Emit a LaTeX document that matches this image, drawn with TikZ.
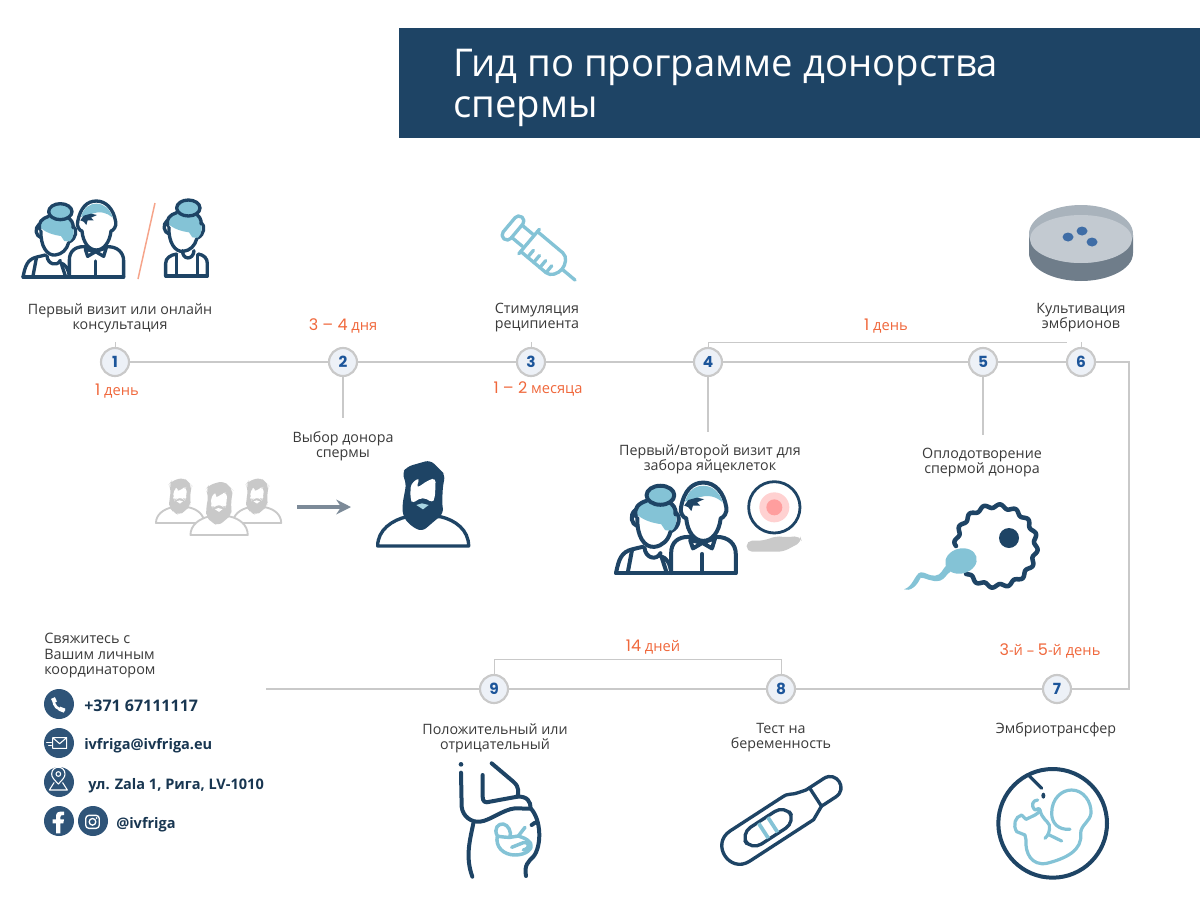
\documentclass[tikz,border=0pt]{standalone}
\usepackage{fontspec}
\setmainfont{Open Sans}
\newfontfamily\digfont{Poppins}
\usetikzlibrary{arrows.meta}
\definecolor{navy}{HTML}{1E4465}
\definecolor{teal}{HTML}{84C3D6}
\definecolor{linegray}{HTML}{C9C9C9}
\definecolor{orangeish}{HTML}{F0683C}
\definecolor{numblue}{HTML}{1C559A}
\definecolor{txt}{HTML}{3A3A3A}
\definecolor{iconblue}{HTML}{2F5478}
\newcommand\od[1]{{\digfont\fontsize{12}{12}\selectfont #1}}
\newcommand\shlw{2.5pt}
\newcommand\mouthcol{teal!70!white}
\newcommand\WomanHead{%
  \draw[darkline] (116,130) .. controls (102,142) and (106,165) .. (122,170);
  \draw[darkline] (218,135) .. controls (232,145) and (228,172) .. (208,182);
  \path[fill=teal] (125,112) .. controls (150,100) and (205,105) .. (215,125) .. controls (224,145) and (222,170) .. (208,182) -- (192,180) -- (182,165) .. controls (160,162) and (135,155) .. (118,138) -- cycle;
  \draw[darkline] (118,145) .. controls (112,125) and (125,112) .. (145,106);
  \draw[darkline] (200,108) .. controls (212,115) and (220,125) .. (218,140);
  \draw[darkline,fill=teal] (180,92) ellipse [x radius=35,y radius=24];
  \draw[darkline] (122,150) .. controls (120,195) and (140,225) .. (165,222) .. controls (185,220) and (200,205) .. (205,185);
}
\tikzset{
  mainline/.style={draw=linegray,line width=1.6pt},
  thinline/.style={draw=linegray,line width=.65pt},
  stepnum/.style={circle,draw=linegray,fill=white!92!numblue,line width=1.6pt,minimum size=21pt,inner sep=0pt,text=numblue,font=\digfont\fontsize{11.5}{12}\selectfont\bfseries},
  steplabel/.style={text=txt,align=center,inner sep=0pt,font=\fontsize{10.7}{11.25}\selectfont},
  dur/.style={text=orangeish,inner sep=0pt,font=\fontsize{11}{12}\selectfont},
  contact/.style={anchor=west,inner sep=0pt,text=navy!80!black,font=\fontsize{10.9}{12}\selectfont\bfseries},
  iconbg/.style={circle,fill=iconblue,minimum size=22.5pt,inner sep=0pt},
  darkline/.style={draw=navy,line width=\iconlw,line cap=round,line join=round},
  tealline/.style={draw=teal,line cap=round,line join=round},
  iconwhite/.style={draw=white,line width=.8pt,line cap=round,line join=round},
  couple/.pic={
    \begin{scope}[scale=1/3,shift={(-68,-288)}]
      \WomanHead
      \draw[darkline] (68,288) .. controls (75,255) and (80,235) .. (110,228) -- (135,222);
      \draw[darkline] (140,225) .. controls (142,250) and (170,258) .. (180,238);
      \draw[darkline] (180,245) .. controls (195,250) and (205,262) .. (207,288);
      \draw[darkline] (108,232) -- (98,285);
      \draw[darkline] (183,248) -- (195,285);
      \draw[darkline,fill=white] (207,288) -- (207,238) .. controls (207,210) and (225,197) .. (250,197) -- (322,197) .. controls (352,197) and (370,215) .. (370,240) -- (370,288);
      \draw[darkline,fill=white] (232,122) .. controls (240,80) and (260,60) .. (288,60) .. controls (318,60) and (340,85) .. (346,122) .. controls (350,135) and (338,150) .. (332,150) .. controls (328,185) and (310,207) .. (288,207) .. controls (266,207) and (248,185) .. (245,150) .. controls (238,150) and (228,135) .. (232,122) -- cycle;
      \path[fill=teal] (242,108) .. controls (250,78) and (270,68) .. (288,68) .. controls (312,68) and (330,85) .. (337,110) .. controls (320,95) and (300,88) .. (270,100) -- cycle;
      \path[fill=navy] (240,118) -- (250,104) -- (272,98) -- (290,102) -- (272,110) -- (280,118) -- (262,118) -- (258,132) -- (250,122) -- cycle;
      \draw[darkline,fill=white] (255,205) -- (262,226) -- (286,212) -- (310,226) -- (318,200) -- (286,212) -- cycle;
      \draw[darkline] (285,240) -- (285,288);
      \draw[darkline] (68,288) -- (370,288);
    \end{scope}
  },
  bearded/.pic={
    \begin{scope}[scale=1/3,shift={(-848,-378)}]
      \draw[draw=#1,line width=\shlw,fill=white,line join=round] (712,378) .. controls (712,330) and (755,300) .. (800,290) -- (900,290) .. controls (945,300) and (985,330) .. (985,378) -- cycle;
      \path[fill=#1,rounded corners=4] (785,160) -- (800,140) -- (870,120) -- (900,150) -- (915,165) -- (908,195) -- (905,250) -- (910,280) -- (880,305) -- (845,335) -- (812,318) -- (788,290) -- (786,255) -- (798,190) -- cycle;
      \path[fill=white,rounded corners=3] (811,192) -- (838,172) -- (828,205) -- (865,180) -- (886,174) -- (884,232) -- (876,250) -- (860,235) -- (835,235) -- (817,252) -- (810,235) -- cycle;
      \path[fill=\mouthcol] (828,255) -- (845,250) -- (865,255) -- (848,268) -- cycle;
    \end{scope}
  }
}
\newlength\iconlw
\setlength\iconlw{2.5pt}
\begin{document}
\begin{tikzpicture}[x=0.75pt,y=-0.75pt]
\useasboundingbox (0,0) rectangle (1200,900);
\path[fill=white] (0,0) rectangle (1200,900);

% title
\path[fill=navy] (399,28) rectangle (1200,138);
\node[anchor=west,inner sep=0pt,text=white,align=left,font=\fontsize{28.7}{30.75}\selectfont] (title) at (453,87.5) {Гид по программе донорства\\спермы};

% step circles
\node[stepnum] (n1) at (115,362) {1};
\node[stepnum] (n2) at (343,362) {2};
\node[stepnum] (n3) at (531,362) {3};
\node[stepnum] (n4) at (708,362) {4};
\node[stepnum] (n5) at (983,362) {5};
\node[stepnum] (n6) at (1081,362) {6};
\node[stepnum] (n7) at (1057,689) {7};
\node[stepnum] (n8) at (781,689) {8};
\node[stepnum] (n9) at (494,689) {9};

\coordinate (cornerA) at (1129,362);
\coordinate (cornerB) at (1129,689);
\coordinate (leftEnd) at (266,689);
\coordinate (s1) at (115,342);
\coordinate (s3) at (531,342);
\coordinate (s6) at (1081,342);
\coordinate (s2) at (343,418);
\coordinate (s4) at (708,432);
\coordinate (s5) at (983,435);
\coordinate (brA) at (708,342);
\coordinate (brB) at (1067,342);
\coordinate (brC) at (494,659);
\coordinate (brD) at (781,659);

\draw[mainline] (n1) -- (n2);
\draw[mainline] (n2) -- (n3);
\draw[mainline] (n3) -- (n4);
\draw[mainline] (n4) -- (n5);
\draw[mainline] (n5) -- (n6);
\draw[mainline] (n6) -- (cornerA) -- (cornerB) -- (n7);
\draw[mainline] (n7) -- (n8);
\draw[mainline] (n8) -- (n9);
\draw[mainline] (n9) -- (leftEnd);
\draw[thinline] (n1) -- (s1);
\draw[thinline] (n3) -- (s3);
\draw[thinline] (n6) -- (s6);
\draw[mainline,line width=1.1pt] (n2) -- (s2);
\draw[mainline,line width=1.1pt] (n4) -- (s4);
\draw[mainline,line width=1.1pt] (n5) -- (s5);
\draw[thinline] (n4) -- (brA) -- (brB);
\draw[thinline] (n9) -- (brC) -- (brD) -- (n8);

% step labels
\node[steplabel] (l1) at (120,318) {Первый визит или онлайн\\консультация};
\node[steplabel] (l2) at (343,446) {Выбор донора\\спермы};
\node[steplabel] (l3) at (537,318) {Стимуляция\\реципиента};
\node[steplabel] (l4) at (710,459) {Первый/второй визит для\\забора яйцеклеток};
\node[steplabel] (l5) at (982,463) {Оплодотворение\\спермой донора};
\node[steplabel] (l6) at (1081,318) {Культивация\\эмбрионов};
\node[steplabel] (l7) at (1056,730) {Эмбриотрансфер};
\node[steplabel] (l8) at (781,738) {Тест на\\беременность};
\node[steplabel] (l9) at (495,738) {Положительный или\\отрицательный};

% durations
\node[dur] (d1) at (117,391) {\od{1} день};
\node[dur] (d2) at (343,326) {\od{3 – 4} дня};
\node[dur] (d3) at (538,389) {\od{1 – 2} месяца};
\node[dur] (d4) at (886,326) {\od{1} день};
\node[dur] (d5) at (653,647) {\od{14} дней};
\node[dur] (d6) at (1050,651) {\od{3}-й – \od{5}-й день};

% first icon: couple, slash, woman
\pic at (23,277) {couple};
\draw[draw=orangeish!60!white,line width=1.1pt] (155,203) -- (138,279);
\begin{scope}[scale=1/3,shift={(0,180*3)}]
  \begin{scope}[shift={(385,-8)}]\WomanHead\end{scope}
  \draw[darkline] (497,288) -- (497,250) .. controls (497,235) and (510,225) .. (530,222);
  \draw[darkline] (548,212) .. controls (546,240) and (580,242) .. (582,212);
  \draw[darkline] (595,222) .. controls (612,225) and (622,235) .. (622,250) -- (622,288);
  \draw[darkline] (530,224) -- (530,285);
  \draw[darkline] (592,224) -- (592,285);
  \draw[darkline] (497,288) -- (622,288);
\end{scope}

% syringe
\begin{scope}[shift={(513,228)},rotate=-40,every path/.style={tealline,line width=2.5pt}]
  \draw[rounded corners=3.5pt] (-5,-14) rectangle (5,14);
  \draw (5,-8) -- (19,-8) (5,8) -- (19,8);
  \draw (21,-16) -- (21,16);
  \draw (21,-13) -- (54,-13) .. controls (60,-13) and (64,-6) .. (64,0) .. controls (64,6) and (60,13) .. (54,13) -- (21,13);
  \draw (30,13) -- (30,4) (38,13) -- (38,4) (46,13) -- (46,4) (54,13) -- (54,4);
  \draw (64,0) -- (81,0);
\end{scope}

% petri dish
\definecolor{dishrim}{HTML}{A9B3BC}
\definecolor{dishin}{HTML}{C3CAD1}
\definecolor{dishside}{HTML}{6F7D8A}
\definecolor{dishdot}{HTML}{3F6DA6}
\path[fill=dishside] (1029,235) -- (1029,253) .. controls (1029,270) and (1055,281) .. (1081,281) .. controls (1107,281) and (1133,270) .. (1133,253) -- (1133,235) -- cycle;
\path[fill=dishrim] (1081,234) ellipse [x radius=52,y radius=29];
\path[fill=dishin] (1081,239) ellipse [x radius=51,y radius=24];
\path[fill=dishdot] (1068,237) ellipse [x radius=5.5,y radius=4.5];
\path[fill=dishdot] (1082,231) ellipse [x radius=5.5,y radius=4.5];
\path[fill=dishdot] (1092,242) ellipse [x radius=5.5,y radius=4.5];

% donors
\begin{scope}
\renewcommand\shlw{1.4pt}
\renewcommand\mouthcol{white}
\pic[scale=.53] at (180,523) {bearded={linegray}};
\pic[scale=.53] at (257,523) {bearded={linegray}};
\pic[scale=.63] at (219,535) {bearded={linegray}};
\end{scope}
\pic at (423,546) {bearded={navy}};
\coordinate (arrA) at (297,507);
\coordinate (arrB) at (351,507);
\definecolor{arrowgray}{HTML}{7C8A98}
\draw[draw=arrowgray,line width=3pt,-{Stealth[length=11pt,width=11pt]}] (arrA) -- (arrB);

% couple 2 + egg on hand
\begin{scope}
\setlength\iconlw{3pt}
\pic[scale=1.19] at (616,573) {couple};
\end{scope}
\begin{scope}[shift={(600,430)},scale=1/3]
  \draw[draw=navy,line width=2.1pt] (523,232) circle (77);
  \path[fill=red!18!white] (523,232) circle (45);
  \path[fill=red!38!white] (523,232) circle (24);
  \path[fill=linegray,rounded corners=4] (440,332) -- (490,332) -- (530,318) -- (555,322) -- (600,318) -- (606,335) -- (550,365) -- (440,365) -- cycle;
\end{scope}

% egg and sperm
\draw[draw=navy,line width=3.4pt,line cap=round] plot[domain=180:497,samples=240,smooth] ({996+(40+1.8*sin(16*\x))*cos(\x)},{546+(40+1.8*sin(16*\x))*sin(\x)});
\path[fill=navy] (1009,538) circle (10);
\path[fill=teal] (961,561) ellipse [x radius=16,y radius=12.5,rotate=15];
\begin{scope}[shift={(890,490)},scale=1/3]
  \path[fill=teal] (170,225) .. controls (155,240) and (155,255) .. (135,257) .. controls (115,258) and (105,245) .. (92,247) .. controls (75,250) and (70,290) .. (42,298) .. controls (60,305) and (80,290) .. (92,263) .. controls (105,262) and (125,278) .. (150,272) .. controls (165,268) and (170,250) .. (182,245) -- cycle;
\end{scope}

% contacts
\node[anchor=north west,inner sep=0pt,text=txt,align=left,font=\fontsize{10.8}{11.6}\selectfont] (ct) at (44,633) {Свяжитесь с\\Вашим личным\\координатором};
\node[iconbg] (iphone) at (59,704) {};
\node[iconbg] (imail) at (59,743) {};
\node[iconbg] (ipin) at (59,782) {};
\node[iconbg] (ifb) at (59,821) {};
\node[iconbg] (iig) at (93,821) {};
\node[contact,font=\fontsize{12}{12}\selectfont\bfseries] (tphone) at (84,706) {+371 67111117};
\node[contact] (tmail) at (84,746) {ivfriga@ivfriga.eu};
\node[contact] (tpin) at (88,786) {ул. Zala 1, Рига, LV-1010};
\node[contact] (tig) at (116,825) {@ivfriga};
\begin{scope}[shift={(30,620)},scale=1/3]
  \draw[draw=white,line width=2pt,line cap=round] (72,238) .. controls (68,258) and (85,270) .. (102,270);
  \draw[draw=white,line width=3.2pt,line cap=butt] (69,234) -- (75,247);
  \draw[draw=white,line width=3.2pt,line cap=butt] (88,266) -- (104,272);
  \draw[iconwhite] (68,353) rectangle (110,385) (68,353) -- (89,371) -- (110,353);
  \draw[iconwhite] (50,367) -- (64,367) (56,376) -- (64,376);
  \draw[iconwhite] (85,492) .. controls (72,478) and (65,472) .. (65,462) .. controls (65,435) and (105,435) .. (105,462) .. controls (105,472) and (98,478) .. (85,492) -- cycle;
  \draw[iconwhite] (85,462) circle (7);
  \draw[iconwhite] (72,488) -- (58,510) -- (112,510) -- (98,488);
  \path[fill=white] (78,640) -- (78,610) -- (68,610) -- (68,598) -- (78,598) -- (78,588) .. controls (78,578) and (85,573) .. (102,575) -- (102,585) .. controls (93,585) and (91,586) .. (91,592) -- (91,598) -- (102,598) -- (100,610) -- (91,610) -- (91,640) -- cycle;
  \draw[iconwhite,line width=1pt,rounded corners=2.5pt] (167,586) rectangle (208,625);
  \draw[iconwhite,line width=1pt] (187.5,605.5) circle (10);
  \path[fill=white] (200,594) circle (3);
\end{scope}

% pregnant body
\begin{scope}[shift={(440,750)},scale=1/3]
  \setlength\iconlw{3pt}
  \path[fill=navy] (63,43) circle (7);
  \draw[darkline] (63,68) -- (65,170) .. controls (68,200) and (95,218) .. (120,215) .. controls (150,212) and (190,178) .. (225,175) -- (270,176);
  \draw[darkline] (155,40) -- (220,95) .. controls (240,112) and (235,130) .. (232,140) -- (150,155) .. controls (135,160) and (128,155) .. (128,140) -- (128,75);
  \draw[darkline] (232,140) .. controls (262,138) and (272,155) .. (272,175) .. controls (305,210) and (305,290) .. (280,320) .. controls (265,335) and (252,345) .. (258,378);
  \draw[darkline] (275,225) -- (285,218);
  \draw[darkline] (100,220) .. controls (90,270) and (75,320) .. (97,380);
  \draw[tealline,line width=2.6pt] (172,258) .. controls (160,235) and (175,220) .. (190,222) .. controls (205,225) and (215,245) .. (210,262) .. controls (195,262) and (180,260) .. (172,258) .. controls (165,290) and (190,315) .. (225,315) .. controls (260,315) and (280,295) .. (272,280) .. controls (262,265) and (245,262) .. (235,258) -- (255,232);
  \draw[tealline,line width=2.6pt] (210,262) -- (235,258);
  \draw[tealline,line width=2.6pt] (215,292) -- (250,278) .. controls (270,275) and (272,295) .. (250,300);
\end{scope}

% test stick
\begin{scope}[shift={(740,846)},rotate=33]
  \draw[darkline] (0,-18) -- (62,-18) .. controls (68,-19) and (72,-14) .. (78,-13) -- (86,-11) -- (107,-11) .. controls (122,-11) and (122,11) .. (107,11) -- (90,11) -- (76,18) -- (0,18) .. controls (-24,18) and (-24,-18) .. (0,-18) -- cycle;
  \draw[darkline] (90,-11) -- (90,11);
  \draw[darkline,rounded corners=9pt] (7,-10) rectangle (60,10);
  \draw[draw=teal,line width=2.8pt] (28,-9) -- (28,9) (39,-9) -- (39,9);
\end{scope}

% embryo
\begin{scope}[shift={(990,760)},scale=1/3]
  \draw[draw=navy,line width=3pt] (188,190) circle (163);
  \draw[draw=navy,line width=2.4pt,line cap=round] (115,45) -- (155,85);
  \path[fill=navy] (160,107) ellipse [x radius=6,y radius=9];
  \draw[tealline,line width=2.4pt] (240,208) .. controls (205,210) and (185,190) .. (185,160) .. controls (185,115) and (215,90) .. (245,90) .. controls (280,90) and (305,125) .. (303,160) .. controls (300,185) and (272,195) .. (272,220) .. controls (278,270) and (230,295) .. (170,310) .. controls (125,318) and (105,280) .. (108,240) -- (105,225) -- (80,215) .. controls (68,195) and (75,170) .. (95,165) -- (108,178) -- (135,165) .. controls (160,150) and (150,140) .. (135,150) .. controls (120,135) and (130,120) .. (143,120);
  \draw[tealline,line width=2.4pt] (150,150) .. controls (155,175) and (170,180) .. (178,195) .. controls (180,215) and (175,225) .. (165,235);
  \draw[tealline,line width=2.4pt] (178,225) -- (215,243);
\end{scope}
\end{tikzpicture}
\end{document}
